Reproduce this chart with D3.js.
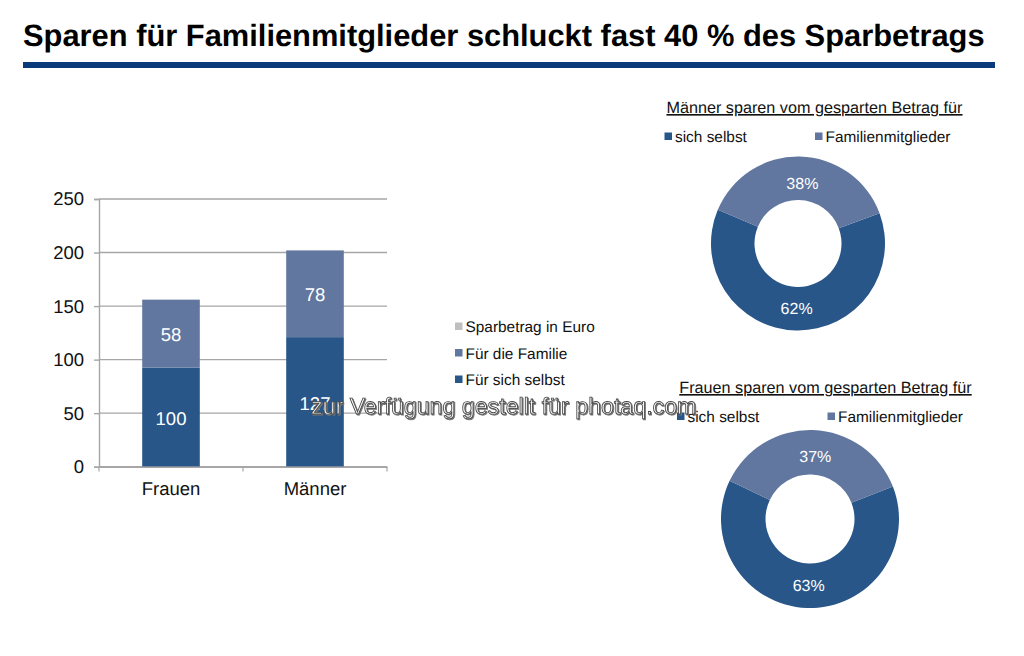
<!DOCTYPE html>
<html>
<head>
<meta charset="utf-8">
<script src="https://cdn.jsdelivr.net/npm/d3@7"></script>
<style>
  html, body { margin: 0; padding: 0; background: #fff; }
  svg { display: block; }
  text { font-family: "Liberation Sans", Arial, sans-serif; fill: #111; text-rendering: geometricPrecision; }
</style>
</head>
<body>
<svg id="chart" width="1024" height="656"></svg>
<script>
// Stacked bars
const categories = ["Frauen", "Männer"];
const selfHeights = [92.5, 121];    // bar heights as drawn in the picture
const familyHeights = [63.5, 81];
const selfLabels = ["100", "127"];  // printed labels differ from the drawn heights
const familyLabels = ["58", "78"];
const yTicks = [0, 50, 100, 150, 200, 250];

// Bar legend
const legendLabels = ["Sparbetrag in Euro", "Für die Familie", "Für sich selbst"];

// Donuts
const donutLegend = ["sich selbst", "Familienmitglieder"];
const menShares = [62, 38];
const womenShares = [63, 37];

const darkBlue = "#285689";
const lightBlue = "#61779f";
const legendColors = ["#bfbfbf", lightBlue, darkBlue];
const sliceColors = [darkBlue, lightBlue];

const svg = d3.select("#chart");

// Headline and rule
svg.append("text")
  .attr("x", 23).attr("y", 46)
  .attr("font-size", 30.85)
  .attr("font-weight", "bold")
  .style("fill", "#000")
  .text("Sparen für Familienmitglieder schluckt fast 40 % des Sparbetrags");

svg.append("rect")
  .attr("x", 23).attr("y", 62)
  .attr("width", 972).attr("height", 6)
  .attr("fill", "#0b3a7c");

// Bar chart
const xScale = d3.scaleBand().domain(categories).range([99, 387]).paddingInner(0.6).paddingOuter(0.3);
const yScale = d3.scaleLinear().domain([0, 250]).range([466.7, 199]);

const gridGroup = svg.append("g");
yTicks.forEach((t) => {
  gridGroup.append("line")
    .attr("x1", 99).attr("x2", 387)
    .attr("y1", yScale(t)).attr("y2", yScale(t))
    .attr("stroke", "#a6a6a6")
    .attr("stroke-width", 1.4);
});

const stackRows = categories.map((c, i) => ({ category: c, self: selfHeights[i], family: familyHeights[i] }));
const stacked = d3.stack().keys(["self", "family"])(stackRows);

svg.append("g").selectAll("g")
  .data(stacked)
  .join("g")
  .attr("fill", (d, i) => sliceColors[i])
  .selectAll("rect")
  .data((d) => d)
  .join("rect")
  .attr("x", (d) => xScale(d.data.category))
  .attr("y", (d) => yScale(d[1]))
  .attr("width", xScale.bandwidth())
  .attr("height", (d) => yScale(d[0]) - yScale(d[1]));

const yAxis = d3.axisLeft(yScale).tickValues(yTicks).tickSize(5).tickPadding(10);
const yAxisGroup = svg.append("g").attr("transform", "translate(99,0)").call(yAxis);
yAxisGroup.selectAll("text").attr("font-size", 18.5);

const xAxis = d3.axisBottom(xScale).tickSize(0).tickPadding(15);
const xAxisGroup = svg.append("g").attr("transform", "translate(0,466.7)").call(xAxis);
xAxisGroup.selectAll("text").attr("font-size", 18.5);
[yAxisGroup, xAxisGroup].forEach((g) => {
  g.attr("font-family", null);
  g.selectAll("path, line").attr("stroke", "#a6a6a6").attr("stroke-width", 1.4);
});

// x axis separators between the categories
[99, 243, 387].forEach((x) => {
  svg.append("line")
    .attr("x1", x).attr("x2", x)
    .attr("y1", 466.7).attr("y2", 471.5)
    .attr("stroke", "#a6a6a6").attr("stroke-width", 1.2);
});

// Bar value labels, nudged per bar to sit where the picture has them
const selfLabelLift = [42, 57];
const familyLabelLift = [26.5, 36.5];
categories.forEach((c, i) => {
  const cx = xScale(c) + xScale.bandwidth() / 2;
  svg.append("text").attr("x", cx).attr("y", yScale(0) - selfLabelLift[i])
    .attr("text-anchor", "middle").attr("font-size", 18.5)
    .style("fill", "#fff").text(selfLabels[i]);
  svg.append("text").attr("x", cx).attr("y", yScale(selfHeights[i]) - familyLabelLift[i])
    .attr("text-anchor", "middle").attr("font-size", 18.5)
    .style("fill", "#fff").text(familyLabels[i]);
});

// Bar legend
legendLabels.forEach((label, i) => {
  const y = 327 + i * 26.5;
  svg.append("rect").attr("x", 455).attr("y", y - 4.5).attr("width", 7.5).attr("height", 7.5).attr("fill", legendColors[i]);
  svg.append("text").attr("x", 465.5).attr("y", y + 5).attr("font-size", 15.4).text(label);
});

// Donut helper
function drawDonut(opts) {
  const pie = d3.pie().sort(null)
    .startAngle(opts.start * Math.PI / 180)
    .endAngle((opts.start + 360) * Math.PI / 180);
  const arc = d3.arc().innerRadius(opts.inner).outerRadius(opts.outer);
  const g = svg.append("g").attr("transform", `translate(${opts.cx},${opts.cy})`);
  const slices = pie(opts.values);

  g.selectAll("path")
    .data(slices)
    .join("path")
    .attr("d", arc)
    .attr("fill", (d, i) => sliceColors[i]);

  g.selectAll("text")
    .data(slices)
    .join("text")
    .attr("transform", (d, i) => {
      const [x, y] = arc.centroid(d);
      return `translate(${x + opts.labelShift[i][0]},${y + opts.labelShift[i][1]})`;
    })
    .attr("dy", "0.35em")
    .attr("text-anchor", "middle")
    .attr("font-size", 16)
    .style("fill", "#fff")
    .text((d) => `${d.value}%`);

  svg.append("text")
    .attr("x", opts.titleX).attr("y", opts.titleY)
    .attr("text-anchor", "middle")
    .attr("font-size", 16.2)
    .attr("text-decoration", "underline")
    .text(opts.title);

  donutLegend.forEach((label, i) => {
    const x = opts.legendX[i];
    svg.append("rect").attr("x", x).attr("y", opts.legendY - 9.5).attr("width", 7.5).attr("height", 7.5).attr("fill", sliceColors[i]);
    svg.append("text").attr("x", x + 10.5).attr("y", opts.legendY).attr("font-size", 15.4).text(label);
  });
}

drawDonut({
  values: menShares, cx: 798, cy: 243.5, outer: 87, inner: 43.5, start: 69.6,
  labelShift: [[0, 0], [3, 5.5]],
  title: "Männer sparen vom gesparten Betrag für", titleX: 814.5, titleY: 113,
  legendX: [664.5, 815], legendY: 142
});
drawDonut({
  values: womenShares, cx: 810, cy: 519, outer: 89, inner: 44.5, start: 68.6,
  labelShift: [[1, 0], [3, 4]],
  title: "Frauen sparen vom gesparten Betrag für", titleX: 825.5, titleY: 393,
  legendX: [677, 827.5], legendY: 422
});

// Watermark laid over the picture
svg.append("text")
  .attr("x", 311).attr("y", 414)
  .attr("font-size", 23.2)
  .attr("stroke", "#444")
  .attr("stroke-width", 0.8)
  .style("fill", "#f4f4f4")
  .style("filter", "drop-shadow(1px 1px 0.5px #777)")
  .text("zur Verfügung gestellt für photaq.com");
</script>
</body>
</html>
